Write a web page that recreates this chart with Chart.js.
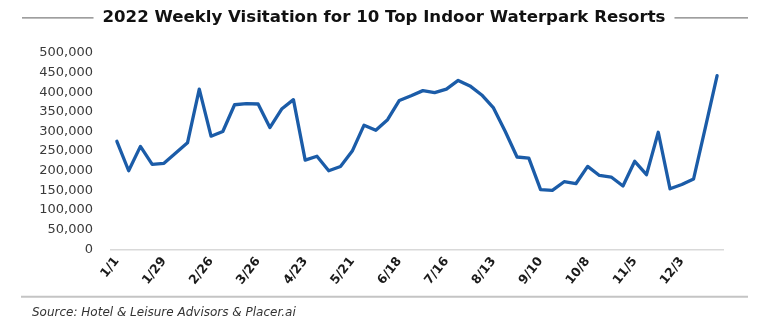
<!DOCTYPE html>
<html>
<head>
<meta charset="utf-8">
<script src="https://cdn.jsdelivr.net/npm/chart.js@4"></script>
<style>
  html, body { margin: 0; padding: 0; background: #ffffff; }
  #wrap { width: 768px; height: 332px; position: relative; }
</style>
</head>
<body>
<div id="wrap"><canvas id="c"></canvas></div>
<script>
const titleText = '2022 Weekly Visitation for 10 Top Indoor Waterpark Resorts';
const sourceText = 'Source: Hotel & Leisure Advisors & Placer.ai';

const categories = ['1/1','1/8','1/15','1/22','1/29','2/5','2/12','2/19','2/26','3/5','3/12','3/19','3/26',
  '4/2','4/9','4/16','4/23','4/30','5/7','5/14','5/21','5/28','6/4','6/11','6/18','6/25',
  '7/2','7/9','7/16','7/23','7/30','8/6','8/13','8/20','8/27','9/3','9/10','9/17','9/24',
  '10/1','10/8','10/15','10/22','10/29','11/5','11/12','11/19','11/26','12/3','12/10','12/17','12/24'];

const visitation = [275000, 200000, 262000, 216000, 219000, 245000, 271000, 408000, 288000, 300000,
  368000, 371000, 370000, 310000, 357000, 381000, 227000, 237000, 200000, 211000,
  250000, 316000, 303000, 330000, 379000, 391000, 404000, 399000, 408000, 430000,
  416000, 393000, 360000, 300000, 235000, 232000, 152000, 150000, 172000, 167000,
  211000, 188000, 184000, 161000, 224000, 190000, 298000, 154000, 165000, 179000,
  310000, 442000];

const xTickLabels = ['1/1','1/29','2/26','3/26','4/23','5/21','6/18','7/16','8/13','9/10','10/8','11/5','12/3'];
const yTicks = [0, 50000, 100000, 150000, 200000, 250000, 300000, 350000, 400000, 450000, 500000];

const decorPlugin = {
  id: 'decor',
  afterDraw(chart) {
    const ctx = chart.ctx;
    const tb = chart.titleBlock;
    ctx.save();
    ctx.font = Chart.helpers.toFont(chart.options.plugins.title.font).string;
    const w = ctx.measureText(titleText).width;
    const cx = (tb.left + tb.right) / 2;
    const cy = tb.top + tb.options.padding.top + Chart.helpers.toFont(chart.options.plugins.title.font).lineHeight / 2;
    ctx.strokeStyle = '#7f7f7f';
    ctx.lineWidth = 1.3;
    ctx.beginPath();
    ctx.moveTo(22, cy); ctx.lineTo(cx - w / 2 - 9, cy);
    ctx.moveTo(cx + w / 2 + 9, cy); ctx.lineTo(748, cy);
    ctx.stroke();
    ctx.strokeStyle = '#c4c4c4';
    ctx.lineWidth = 2;
    ctx.beginPath();
    const ly = chart.chartArea.bottom + chart.scales.x.height;
    ctx.moveTo(21, ly); ctx.lineTo(748, ly);
    ctx.stroke();
    ctx.restore();
  }
};

new Chart(document.getElementById('c'), {
  type: 'line',
  data: {
    labels: categories,
    datasets: [{
      data: visitation,
      borderColor: '#1b5ca8',
      borderWidth: 3.3,
      pointRadius: 0,
      pointHoverRadius: 0,
      tension: 0,
      fill: false,
      borderJoinStyle: 'round',
      borderCapStyle: 'round'
    }]
  },
  options: {
    responsive: true,
    maintainAspectRatio: false,
    animation: false,
    layout: { padding: { left: 32, right: 32, top: 0, bottom: 0 } },
    plugins: {
      legend: { display: false },
      tooltip: { enabled: false },
      title: {
        display: true,
        text: titleText,
        color: '#111111',
        font: { family: "'DejaVu Sans', sans-serif", size: 16.6, weight: 'bold', lineHeight: 1.2 },
        padding: { top: 8, bottom: 25 }
      },
      subtitle: {
        display: true,
        position: 'bottom',
        align: 'start',
        text: sourceText,
        color: '#333333',
        font: { family: "'DejaVu Sans', sans-serif", size: 12, style: 'italic', lineHeight: 1.2 },
        padding: { top: 8.8, bottom: 12 }
      }
    },
    scales: {
      x: {
        offset: true,
        grid: { display: false, drawTicks: false },
        border: { display: true, color: '#d9d9d9', width: 1.5 },
        ticks: {
          autoSkip: false,
          maxRotation: 52,
          minRotation: 52,
          padding: 5,
          color: '#1a1a1a',
          font: { family: "'DejaVu Sans', sans-serif", size: 12.5, weight: 'bold' },
          callback: function (value, index) {
            const lab = categories[index];
            return xTickLabels.includes(lab) ? lab : '';
          }
        },
        afterFit: function (s) { s.height = 47.5; }
      },
      y: {
        min: 0,
        max: 500000,
        grid: { display: false, drawTicks: false },
        border: { display: false },
        afterBuildTicks: function (s) { s.ticks = yTicks.map(v => ({ value: v })); },
        ticks: {
          padding: 18,
          color: '#3a3a3a',
          font: { family: "'DejaVu Sans', sans-serif", size: 13 },
          callback: function (value) { return value.toLocaleString('en-US'); }
        },
        afterFit: function (s) { s.width = 79; }
      },
      y2: {
        type: 'linear',
        position: 'right',
        display: true,
        grid: { display: false, drawTicks: false },
        border: { display: false },
        ticks: { display: false },
        afterFit: function (s) { s.width = 13; }
      }
    }
  },
  plugins: [decorPlugin]
});
</script>
</body>
</html>
